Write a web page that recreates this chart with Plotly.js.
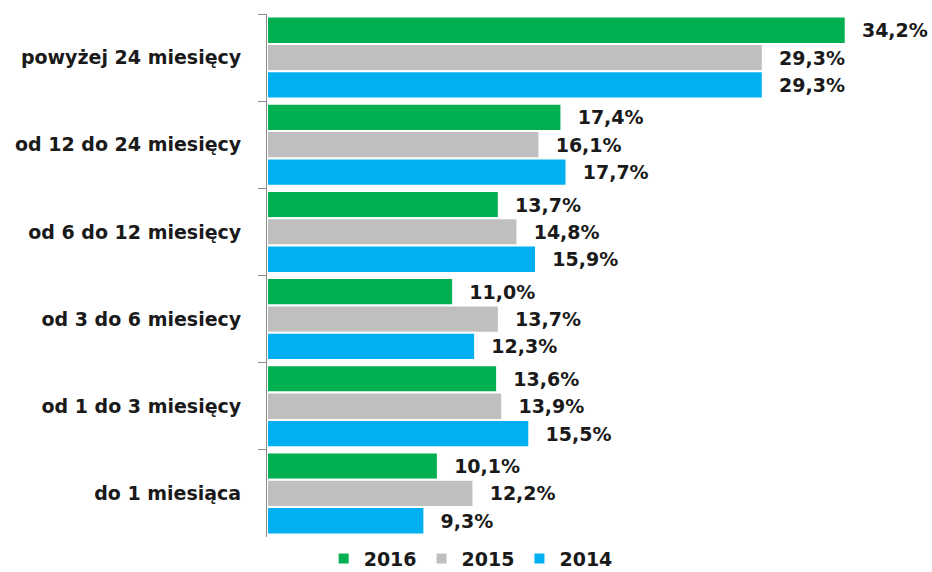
<!DOCTYPE html>
<html><head><meta charset="utf-8">
<script src="https://cdn.plot.ly/plotly-3.0.1.min.js"></script>
<style>body{margin:0;background:#fff}#c{width:932px;height:572px}</style>
</head><body><div id="c"></div>
<script>
const categories = ["powyżej 24 miesięcy","od 12 do 24 miesięcy","od 6 do 12 miesięcy","od 3 do 6 miesiecy","od 1 do 3 miesięcy","do 1 miesiąca"];
const seriesNames = ["2016","2015","2014"];
const v2016 = [34.2,17.4,13.7,11.0,13.6,10.1];
const v2015 = [29.3,16.1,14.8,13.7,13.9,12.2];
const v2014 = [29.3,17.7,15.9,12.3,15.5,9.3];
const colors = ["#00b050","#bfbfbf","#00b0f0"];
const FONT = "DejaVu Sans, sans-serif";
const fmt = v => "\u00a0\u00a0" + v.toFixed(1).replace(".", ",") + "%";
const traces = [v2016, v2015, v2014].map((vals, i) => ({
  type: "bar", orientation: "h", name: seriesNames[i],
  y: categories, x: vals,
  marker: {color: colors[i], line: {color: "#ffffff", width: 2}},
  text: vals.map(fmt), textposition: "outside", cliponaxis: false,
  textfont: {family: FONT, size: 19, color: "#1a1a1a", weight: "bold"},
  hoverinfo: "skip"
}));
Plotly.newPlot("c", traces, {
  width: 932, height: 572,
  margin: {l: 267, r: 22, t: 14, b: 35, autoexpand: false},
  barmode: "group", bargap: 0.06, bargroupgap: 0,
  paper_bgcolor: "#fff", plot_bgcolor: "#fff",
  font: {family: FONT, color: "#1a1a1a"},
  xaxis: {range: [0, 38], visible: false, fixedrange: true},
  yaxis: {autorange: "reversed", type: "category", tickson: "boundaries",
    ticks: "outside", ticklen: 8, tickcolor: "#8c8c8c",
    showline: true, linecolor: "#8c8c8c", linewidth: 1, showgrid: false,
    ticklabelstandoff: 21, automargin: false,
    tickfont: {family: FONT, size: 19, color: "#1a1a1a", weight: "bold"}},
  showlegend: true,
  legend: {orientation: "h", xref: "container", x: 0.505, xanchor: "center",
    yref: "paper", y: -0.005, yanchor: "top",
    font: {family: FONT, size: 19, color: "#1a1a1a", weight: "bold"},
    itemwidth: 30, traceorder: "normal", bgcolor: "rgba(0,0,0,0)"}
}, {displayModeBar: false, staticPlot: true});
</script></body></html>
